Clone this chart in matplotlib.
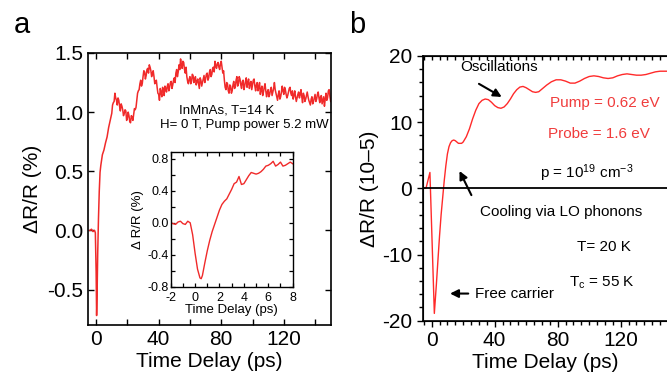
import matplotlib
matplotlib.use("Agg")
import matplotlib.pyplot as plt
from matplotlib.ticker import MultipleLocator

plt.rcParams['font.family'] = ['Liberation Sans', 'DejaVu Sans']
plt.rcParams['mathtext.default'] = 'regular'
plt.rcParams['axes.unicode_minus'] = False

# Panel a: InMnAs reflectivity transient
t_a = [-4, -3, -2, -1, -0.5, 0, 0.3, 0.6, 1, 1.5, 2, 2.5, 3,
       4, 5, 6, 7, 8, 9, 10, 11, 12, 13, 14, 15, 16, 17, 18, 19, 20,
       21, 22, 23, 24, 25, 26, 27, 28, 29, 30, 31, 32, 33, 34, 35, 36, 37, 38, 39, 40,
       41, 42, 43, 44, 45, 46, 47, 48, 49, 50, 51, 52, 53, 54, 55, 56, 57, 58, 59, 60,
       61, 62, 63, 64, 65, 66, 67, 68, 69, 70, 71, 72, 73, 74, 75, 76, 77, 78, 79, 80,
       81, 82, 83, 84, 85, 86, 87, 88, 89, 90, 91, 92, 93, 94, 95, 96, 97, 98, 99, 100,
       101, 102, 103, 104, 105, 106, 107, 108, 109, 110, 111, 112, 113, 114, 115, 116, 117, 118, 119, 120,
       121, 122, 123, 124, 125, 126, 127, 128, 129, 130, 131, 132, 133, 134, 135, 136, 137, 138, 139, 140,
       141, 142, 143, 144, 145, 146, 147, 148, 149, 150]
r_a = [0.00, 0.01, -0.01, 0.00, -0.02, -0.35, -0.72, -0.55, -0.20, 0.10, 0.33, 0.49, 0.55,
       0.64, 0.68, 0.74, 0.79, 0.87, 0.93, 0.99, 1.08, 1.16, 1.10, 1.12, 1.05, 1.07, 1.02, 0.99, 1.01, 0.95,
       0.97, 0.91, 0.96, 0.98, 1.02, 1.10, 1.18, 1.24, 1.22, 1.30, 1.34, 1.31, 1.37, 1.40, 1.35, 1.33, 1.30, 1.25, 1.21, 1.15,
       1.20, 1.13, 1.19, 1.22, 1.17, 1.24, 1.21, 1.26, 1.23, 1.29, 1.33, 1.30, 1.40, 1.45, 1.37, 1.42, 1.33, 1.30, 1.24, 1.30,
       1.26, 1.31, 1.27, 1.23, 1.28, 1.20, 1.27, 1.25, 1.31, 1.28, 1.33, 1.29, 1.36, 1.32, 1.38, 1.43, 1.37, 1.42, 1.36, 1.43,
       1.33, 1.27, 1.19, 1.24, 1.16, 1.22, 1.18, 1.26, 1.21, 1.30, 1.24, 1.28, 1.20, 1.27, 1.22, 1.29, 1.25, 1.20, 1.26, 1.23,
       1.28, 1.18, 1.25, 1.21, 1.15, 1.22, 1.17, 1.24, 1.13, 1.19, 1.15, 1.21, 1.17, 1.25, 1.16, 1.10, 1.18, 1.13, 1.22, 1.15,
       1.19, 1.12, 1.17, 1.21, 1.14, 1.11, 1.18, 1.09, 1.15, 1.12, 1.19, 1.08, 1.14, 1.11, 1.17, 1.10, 1.06, 1.13, 1.09, 1.15,
       1.11, 1.17, 1.08, 1.14, 1.10, 1.05, 1.16, 1.12, 1.19, 1.09]
# half-ps samples between 10 and 150 ps
t_a_half = [10.5 + i for i in range(140)]
r_a_half = [1.06, 1.09, 1.12, 1.06, 1.10, 1.01, 1.05, 0.97, 1.02, 0.93,
            1.00, 0.92, 0.97, 0.93, 1.03, 1.04, 1.16, 1.19, 1.27, 1.24,
            1.35, 1.28, 1.36, 1.33, 1.38, 1.30, 1.35, 1.24, 1.27, 1.16,
            1.10, 1.17, 1.21, 1.14, 1.20, 1.22, 1.18, 1.25, 1.20, 1.27,
            1.25, 1.36, 1.34, 1.36, 1.40, 1.43, 1.36, 1.38, 1.26, 1.28,
            1.24, 1.32, 1.25, 1.30, 1.26, 1.24, 1.29, 1.22, 1.28, 1.25,
            1.32, 1.27, 1.34, 1.30, 1.37, 1.34, 1.39, 1.41, 1.38, 1.41,
            1.38, 1.35, 1.21, 1.25, 1.18, 1.23, 1.16, 1.23, 1.20, 1.27,
            1.22, 1.30, 1.23, 1.26, 1.19, 1.26, 1.21, 1.28, 1.24, 1.19,
            1.27, 1.22, 1.23, 1.18, 1.25, 1.19, 1.14, 1.21, 1.18, 1.17,
            1.13, 1.19, 1.14, 1.20, 1.19, 1.13, 1.15, 1.11, 1.17, 1.18,
            1.21, 1.15, 1.14, 1.20, 1.16, 1.18, 1.14, 1.13, 1.12, 1.17,
            1.15, 1.13, 1.16, 1.09, 1.14, 1.13, 1.08, 1.11, 1.07, 1.12,
            1.09, 1.15, 1.12, 1.13, 1.07, 1.13, 1.11, 1.10, 1.18, 1.13]

# Inset: first few ps
t_in = [-2.0, -1.8, -1.6, -1.4, -1.2, -1.0, -0.8, -0.6, -0.4, -0.2, 0.0, 0.2, 0.4, 0.5, 0.6, 0.8,
        1.0, 1.2, 1.4, 1.6, 1.8, 2.0, 2.2, 2.4, 2.6, 2.8, 3.0, 3.2, 3.4, 3.6, 3.8, 4.0, 4.2, 4.4,
        4.6, 4.8, 5.0, 5.2, 5.4, 5.6, 5.8, 6.0, 6.2, 6.4, 6.6, 6.8, 7.0, 7.2, 7.4, 7.6, 7.8, 8.0]
r_in = [0.00, -0.01, -0.02, 0.01, 0.02, -0.01, -0.02, 0.02, 0.00, -0.15, -0.38, -0.58, -0.69, -0.70, -0.66, -0.50,
        -0.35, -0.22, -0.11, -0.02, 0.07, 0.16, 0.23, 0.27, 0.30, 0.36, 0.42, 0.49, 0.51, 0.58, 0.48, 0.49, 0.54, 0.59,
        0.63, 0.62, 0.61, 0.62, 0.64, 0.67, 0.71, 0.72, 0.74, 0.77, 0.71, 0.73, 0.76, 0.71, 0.72, 0.74, 0.76, 0.74]

# Panel b
t_b = [-5.5, -3.6, -1.1, 1.7, 3, 4, 5, 6, 7, 8, 9, 10, 11, 12, 13, 14, 15, 16, 17, 18, 19, 20,
       22, 24, 26, 28, 30, 32, 34, 36, 38, 40, 42, 44, 46, 48, 50, 52, 54, 56, 58, 60, 62, 64, 66, 68, 70,
       73, 76, 79, 82, 85, 88, 91, 94, 97, 100, 103, 106, 109, 112, 115, 118, 121, 124, 127, 130,
       133, 136, 139, 142, 145, 148, 151]
r_b = [0.0, 0.0, 2.4, -18.9, -14.5, -10.8, -7.2, -4.0, -1.4, 1.2, 3.4, 5.2, 6.3, 6.9, 7.2, 7.3, 7.2, 7.0, 6.8, 6.8, 6.8, 7.0,
       7.8, 9.0, 10.5, 11.8, 12.8, 13.3, 13.5, 13.4, 13.0, 12.5, 12.2, 12.1, 12.3, 12.8, 13.5, 14.3, 14.9, 15.3, 15.4, 15.2, 14.9, 14.6, 14.5, 14.6, 15.0,
       15.6, 16.1, 16.4, 16.4, 16.2, 15.9, 15.9, 16.2, 16.6, 16.9, 17.0, 16.9, 16.7, 16.6, 16.7, 17.0, 17.2, 17.3, 17.2, 17.1,
       17.1, 17.2, 17.4, 17.6, 17.7, 17.7, 17.7]

red = '#f02a2a'

fig = plt.figure(figsize=(6.67, 3.78), dpi=100)

# ---- panel a
pts = sorted(zip(t_a + t_a_half, r_a + r_a_half))
ax = fig.add_axes([0.1324, 0.1402, 0.3634, 0.7196])
ax.plot([p[0] for p in pts], [p[1] for p in pts], color=red, lw=1.1)
ax.set_xlim(-5, 150)
ax.set_ylim(-0.8, 1.5)
ax.xaxis.set_minor_locator(MultipleLocator(20))
ax.set_yticks([-0.5, 0.0, 0.5, 1.0, 1.5])
ax.set_yticklabels(['-0.5', '0.0', '0.5', '1.0', '1.5'])
ax.set_xticks([0, 40, 80, 120])
ax.set_xticklabels(['0', '40', '80', '120'])
ax.tick_params(which='both', direction='in', top=True, right=True, labelsize=15, width=1.0, length=4)
ax.set_xlabel('Time Delay (ps)', fontsize=15, labelpad=2)
ax.set_ylabel('ΔR/R (%)', fontsize=15, labelpad=4)
for s in ax.spines.values():
    s.set_linewidth(1.2)
ax.text(0.57, 0.79, 'InMnAs, T=14 K', transform=ax.transAxes, fontsize=9.5, ha='center', va='center')
ax.text(0.645, 0.735, 'H= 0 T, Pump power 5.2 mW', transform=ax.transAxes, fontsize=9.5, ha='center', va='center')
fig.text(0.033, 0.935, 'a', fontsize=21, ha='center', va='center')

# ---- inset
ins = fig.add_axes([0.2559, 0.2415, 0.1829, 0.3571])
ins.plot(t_in, r_in, color=red, lw=1.0)
ins.set_xlim(-2, 8)
ins.set_ylim(-0.8, 0.89)
ins.xaxis.set_major_locator(MultipleLocator(2))
ins.xaxis.set_minor_locator(MultipleLocator(1))
ins.yaxis.set_minor_locator(MultipleLocator(0.2))
ins.set_yticks([-0.8, -0.4, 0.0, 0.4, 0.8])
ins.set_yticklabels(['-0.8', '-0.4', '0.0', '0.4', '0.8'])
ins.tick_params(which='both', direction='in', top=True, right=True, labelsize=9, width=0.9, length=3)
ins.tick_params(axis='y', pad=1.5)
ins.tick_params(axis='x', pad=3.5)
ins.set_xlabel('Time Delay (ps)', fontsize=9.5, labelpad=0)
ins.set_ylabel('Δ R/R (%)', fontsize=9.5, labelpad=2)
for s in ins.spines.values():
    s.set_linewidth(1.0)

# ---- panel b
bx = fig.add_axes([0.6337, 0.1516, 0.3663, 0.7003])
bx.plot(t_b, r_b, color='#ff2a2a', lw=1.0)
bx.axhline(0, color='black', lw=1.3)
bx.set_xlim(-5.7, 149.4)
bx.set_ylim(-20, 20)
bx.xaxis.set_major_locator(MultipleLocator(40))
bx.xaxis.set_minor_locator(MultipleLocator(5))
bx.yaxis.set_major_locator(MultipleLocator(10))
bx.yaxis.set_minor_locator(MultipleLocator(2))
bx.spines['right'].set_visible(False)
for s in bx.spines.values():
    s.set_linewidth(1.2)
bx.tick_params(which='both', direction='out', labelsize=15, width=1.0)
bx.tick_params(which='major', length=4)
bx.tick_params(which='minor', length=3)
bx.set_xlabel('Time Delay (ps)', fontsize=15, labelpad=2)
bx.set_ylabel('ΔR/R (10–5)', fontsize=15, labelpad=2)
fig.text(0.535, 0.935, 'b', fontsize=21, ha='center', va='center')

# top ticks of panel b point inward
top = bx.twiny()
top.set_xlim(bx.get_xlim())
top.xaxis.set_major_locator(MultipleLocator(40))
top.xaxis.set_minor_locator(MultipleLocator(5))
top.tick_params(which='both', direction='in', length=3, width=1.0, labeltop=False)
top.spines['right'].set_visible(False)

arrow = dict(arrowstyle='-|>', color='black', lw=1.5, mutation_scale=12)
bx.text(43, 18.3, 'Oscillations', fontsize=11, ha='center', va='center')
bx.annotate('', xy=(46, 13.6), xytext=(28.5, 16.0), arrowprops=arrow)
bx.text(110, 12.9, 'Pump = 0.62 eV', fontsize=11, ha='center', va='center', color='#f03c3c')
bx.text(106.5, 8.2, 'Probe = 1.6 eV', fontsize=11, ha='center', va='center', color='#f03c3c')
bx.text(98.5, 2.3, 'p = 10$^{19}$ cm$^{-3}$', fontsize=11, ha='center', va='center')
bx.text(82.5, -3.6, 'Cooling via LO phonons', fontsize=11, ha='center', va='center')
bx.annotate('', xy=(16.9, 3.0), xytext=(26, -1.4), arrowprops=arrow)
bx.text(109.4, -8.8, 'T= 20 K', fontsize=11, ha='center', va='center')
bx.text(108, -14.2, 'T$_c$ = 55 K', fontsize=11, ha='center', va='center')
bx.text(27.5, -15.9, 'Free carrier', fontsize=11, ha='left', va='center')
bx.annotate('', xy=(9.9, -15.9), xytext=(25, -15.9), arrowprops=arrow)

fig.savefig('out.png', dpi=100)
